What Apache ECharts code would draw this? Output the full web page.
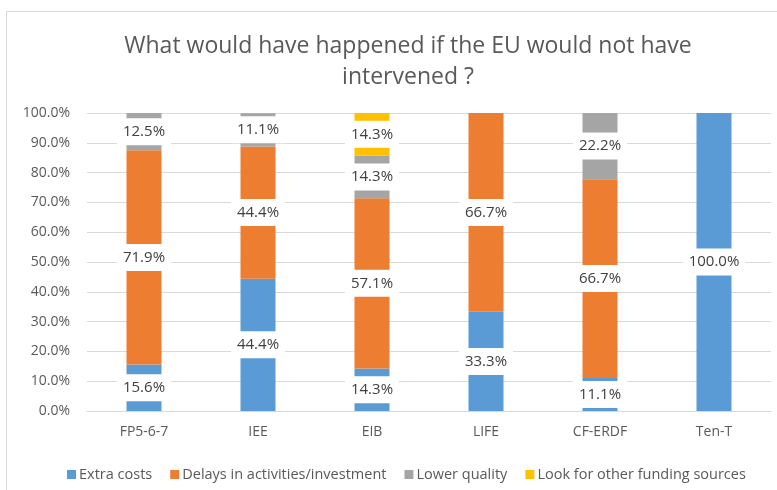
<!DOCTYPE html>
<html>
<head>
<meta charset="utf-8">
<script src="https://cdn.jsdelivr.net/npm/echarts@6/dist/echarts.min.js"></script>
<style>
  html, body { margin: 0; padding: 0; background: #fff; }
  #chart { width: 777px; height: 490px; }
</style>
</head>
<body>
<div id="chart"></div>
<script>
// Programmes surveyed
const categories = ['FP5-6-7', 'IEE', 'EIB', 'LIFE', 'CF-ERDF', 'Ten-T'];

// Share of respondents per consequence (percent)
const extraCosts   = [15.6, 44.4, 14.3, 33.3, 11.1, 100.0];
const delays       = [71.9, 44.4, 57.1, 66.7, 66.7, 0];
const lowerQuality = [12.5, 11.1, 14.3, 0, 22.2, 0];
const otherFunding = [0, 0, 14.3, 0, 0, 0];

const yTicks = [0, 10, 20, 30, 40, 50, 60, 70, 80, 90, 100];

const FONT = '"Open Sans", "Liberation Sans", sans-serif';
const TEXT = '#595959';

function toData(arr) {
  return arr.map(v => v === 0 ? { value: 0, label: { show: false } } : { value: v });
}

function makeSeries(name, arr, color) {
  return {
    name: name,
    type: 'bar',
    stack: 'total',
    barWidth: 35,
    data: toData(arr),
    itemStyle: { color: color },
    label: {
      show: true,
      position: 'inside',
      formatter: p => p.value.toFixed(1) + '%',
      color: '#404040',
      fontFamily: FONT,
      fontSize: 15,
      lineHeight: 15,
      backgroundColor: '#ffffff',
      padding: [6, 6, 6, 6]
    },
    emphasis: { disabled: true }
  };
}

const chart = echarts.init(document.getElementById('chart'), null, { renderer: 'canvas' });

chart.setOption({
  animation: false,
  backgroundColor: '#ffffff',
  graphic: [{
    type: 'rect',
    shape: { x: 6.5, y: 11.5, width: 820, height: 520 },
    style: { fill: 'none', stroke: '#D9D9D9', lineWidth: 1 },
    z: -1
  }],
  title: {
    text: 'What would have happened if the EU would not have\nintervened ?',
    left: 403,
    textAlign: 'center',
    top: 26,
    textStyle: {
      fontFamily: FONT,
      fontWeight: 'normal',
      fontSize: 23,
      lineHeight: 31,
      color: TEXT
    }
  },
  legend: {
    left: 62,
    top: 462,
    itemWidth: 9,
    itemHeight: 9,
    itemGap: 18,
    icon: 'rect',
    textStyle: { fontFamily: FONT, fontSize: 14.5, color: TEXT, padding: [0, 0, 0, -2] },
    data: ['Extra costs', 'Delays in activities/investment', 'Lower quality', 'Look for other funding sources']
  },
  grid: { left: 87, right: 6, top: 113, bottom: 79 },
  xAxis: {
    type: 'category',
    data: categories,
    axisLine: { lineStyle: { color: '#D9D9D9', width: 1 } },
    axisTick: { show: false },
    axisLabel: { fontFamily: FONT, fontSize: 14, color: TEXT, margin: 14 }
  },
  yAxis: {
    type: 'value',
    min: yTicks[0],
    max: yTicks[yTicks.length - 1],
    interval: 10,
    axisLine: { show: false },
    axisTick: { show: false },
    splitLine: { lineStyle: { color: '#D9D9D9', width: 1 } },
    axisLabel: {
      fontFamily: FONT,
      fontSize: 14,
      color: TEXT,
      margin: 17,
      formatter: v => v.toFixed(1) + '%'
    }
  },
  series: [
    makeSeries('Extra costs', extraCosts, '#5B9BD5'),
    makeSeries('Delays in activities/investment', delays, '#ED7D31'),
    makeSeries('Lower quality', lowerQuality, '#A5A5A5'),
    makeSeries('Look for other funding sources', otherFunding, '#FFC000')
  ]
});
</script>
</body>
</html>
